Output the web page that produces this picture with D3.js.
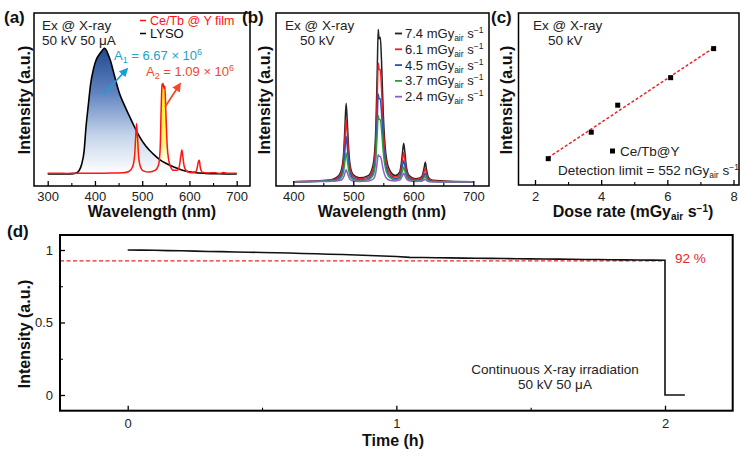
<!DOCTYPE html>
<html>
<head>
<meta charset="utf-8">
<script src="https://cdn.jsdelivr.net/npm/d3@7"></script>
<style>
  body { margin: 0; background: #fff; }
  svg { display: block; font-family: "Liberation Sans", Arial, sans-serif; }
</style>
</head>
<body>
<svg id="fig" width="741" height="456"></svg>
<script>
// ---------- data ----------
// (a) LYSO vs Ce/Tb@Y film, normalised to LYSO peak
const lysoWl  = [300, 340, 355, 362, 367, 372, 377, 381, 386, 391, 396, 400, 404, 408, 413, 417, 420, 424, 428, 433, 438, 445, 452, 462, 473, 483, 494, 508, 523, 537, 550, 567, 585, 610, 634, 660, 700];
const lysoInt = [0, 0, 0.003, 0.01, 0.03, 0.08, 0.18, 0.37, 0.55, 0.72, 0.82, 0.88, 0.92, 0.945, 0.97, 0.99, 1.0, 0.985, 0.95, 0.9, 0.83, 0.73, 0.64, 0.55, 0.46, 0.38, 0.30, 0.22, 0.16, 0.115, 0.085, 0.055, 0.03, 0.012, 0.005, 0.002, 0];
const filmWl  = [300, 320, 340, 360, 380, 400, 420, 440, 460, 472, 480, 484, 486, 488, 490, 492, 496, 502, 515, 528, 535, 538, 540, 542, 544, 546, 548, 550, 553, 558, 566, 575, 579, 582, 584, 586, 589, 595, 605, 614, 617, 619, 621, 623, 627, 640, 655, 665, 672, 680, 700];
const filmInt = [0.005, 0.006, 0.004, 0.006, 0.005, 0.006, 0.006, 0.008, 0.01, 0.02, 0.06, 0.15, 0.28, 0.40, 0.30, 0.16, 0.06, 0.025, 0.015, 0.03, 0.08, 0.2, 0.5, 0.71, 0.72, 0.68, 0.70, 0.5, 0.22, 0.08, 0.03, 0.03, 0.07, 0.15, 0.19, 0.14, 0.06, 0.02, 0.01, 0.02, 0.06, 0.10, 0.11, 0.05, 0.015, 0.008, 0.01, 0.004, 0.012, 0.005, 0.005];

// (b) spectra at five dose rates
const specWl = [400, 440, 465, 476, 481, 484, 486, 488, 490, 492, 495, 500, 510, 525, 533, 537, 540, 541.5, 543, 545, 547, 550, 554, 560, 570, 577, 580, 582, 584, 586, 588, 593, 603, 611, 615, 618, 620, 622, 625, 632, 650, 700];
const spec74 = [1, 1.5, 2.5, 5, 10, 20, 36, 52, 40, 24, 11, 5.5, 3.5, 5, 12, 30, 75, 100, 94, 95, 80, 45, 20, 9, 5, 7, 13, 20, 26, 20, 12, 5, 3, 3.5, 5, 10, 13.6, 9, 4, 2, 1.5, 1];
const spec61 = [1, 1.4, 2.2, 4, 8, 16, 29, 41.6, 32, 19, 9, 4.5, 3, 4, 9.5, 23, 58, 78, 74, 74, 62, 35, 16, 7, 4, 5.5, 10, 15.5, 20, 15.5, 9.5, 4, 2.5, 3, 4, 7.5, 9.8, 6.5, 3, 1.6, 1.2, 1];
const spec45 = [1, 1.3, 1.8, 3, 6, 12, 21, 30.6, 23.5, 14, 6.5, 3.3, 2.2, 3, 7, 17, 43, 58, 55, 55, 46, 26, 12, 5.2, 3, 4, 7.5, 11.5, 14.7, 11.5, 7, 3, 2, 2.2, 3, 5, 6.5, 4.3, 2, 1.2, 1, 1];
const spec37 = [1, 1.2, 1.5, 2.3, 4.2, 8, 14, 19.7, 15, 9, 4.3, 2.3, 1.7, 2.4, 5.3, 13, 33, 44, 41.5, 41.5, 35, 20, 9, 4, 2.3, 3, 5.3, 8, 10.5, 8, 5, 2.2, 1.5, 1.7, 2.2, 3.5, 4.6, 3, 1.5, 1.1, 1, 1];
const spec24 = [1, 1.1, 1.3, 1.7, 2.4, 4, 6.5, 8.8, 7, 4.5, 2.3, 1.4, 1.2, 1.5, 2.6, 6, 14, 18.6, 17.5, 17.5, 15, 8.5, 4, 2, 1.5, 2, 3.4, 5, 6.5, 5, 3.2, 1.6, 1.2, 1.3, 1.5, 2.1, 2.6, 1.8, 1.2, 1, 1, 1];
const doseLabels = ["7.4", "6.1", "4.5", "3.7", "2.4"];
const doseColors = ["#222222", "#ee1c25", "#2c4fb8", "#2e9e44", "#8c5fc9"];

// (c) integrated intensity vs dose rate
const doseRate = [2.4, 3.7, 4.5, 6.1, 7.4];
const doseIntensity = [0.153, 0.307, 0.464, 0.624, 0.793];

// (d) stability under continuous irradiation
const timeH = [0, 0.05, 0.1, 0.15, 0.2, 0.25, 0.3, 0.35, 0.4, 0.45, 0.5, 0.55, 0.6, 0.65, 0.7, 0.75, 0.8, 0.85, 0.9, 0.95, 1.0, 1.05, 1.1, 1.15, 1.2, 1.25, 1.3, 1.35, 1.4, 1.45, 1.5, 1.55, 1.6, 1.65, 1.7, 1.75, 1.8, 1.85, 1.9, 1.95, 2.0, 2.0, 2.074];
const stability = [1.0, 0.999, 0.998, 0.996, 0.995, 0.992, 0.990, 0.989, 0.986, 0.985, 0.983, 0.981, 0.979, 0.976, 0.974, 0.971, 0.969, 0.966, 0.962, 0.959, 0.955, 0.949, 0.948, 0.947, 0.946, 0.944, 0.943, 0.942, 0.941, 0.940, 0.939, 0.938, 0.937, 0.936, 0.935, 0.934, 0.933, 0.932, 0.931, 0.930, 0.929, 0, 0];
const retention = 0.925;

// ---------- drawing ----------
const svg = d3.select("#fig");
const defs = svg.append("defs");

// gradients
const gBlue = defs.append("linearGradient").attr("id", "lysoGrad")
  .attr("gradientUnits", "userSpaceOnUse").attr("x1", 0).attr("y1", 48).attr("x2", 0).attr("y2", 174);
gBlue.append("stop").attr("offset", 0).attr("stop-color", "#22488f");
gBlue.append("stop").attr("offset", 0.35).attr("stop-color", "#5f83c0");
gBlue.append("stop").attr("offset", 0.7).attr("stop-color", "#c6d5eb");
gBlue.append("stop").attr("offset", 1).attr("stop-color", "#ffffff");

const gYel = defs.append("linearGradient").attr("id", "filmGrad")
  .attr("gradientUnits", "userSpaceOnUse").attr("x1", 0).attr("y1", 85).attr("x2", 0).attr("y2", 174);
gYel.append("stop").attr("offset", 0).attr("stop-color", "#ffee00").attr("stop-opacity", 1);
gYel.append("stop").attr("offset", 0.65).attr("stop-color", "#fff34d").attr("stop-opacity", 0.8);
gYel.append("stop").attr("offset", 1).attr("stop-color", "#ffffff").attr("stop-opacity", 0);

function arrowHead(id, color) {
  defs.append("marker").attr("id", id)
    .attr("viewBox", "0 0 10 10").attr("refX", 8).attr("refY", 5)
    .attr("markerWidth", 5).attr("markerHeight", 5).attr("orient", "auto")
    .append("path").attr("d", "M0,0 L10,5 L0,10 Z").attr("fill", color);
}
arrowHead("arrCyan", "#1aa0cf");
arrowHead("arrRed", "#f04a2c");

// helpers
function frame(x, y, w, h, sw) {
  svg.append("rect").attr("x", x).attr("y", y).attr("width", w).attr("height", h)
    .attr("fill", "none").attr("stroke", "#000").attr("stroke-width", sw || 1.5);
}
function bottomTicks(scale, y, major, minor, pad) {
  const g = svg.append("g").attr("transform", `translate(0,${y})`)
    .call(d3.axisBottom(scale).tickValues(major).tickSize(-5).tickPadding(pad).tickFormat(d3.format("")));
  g.select(".domain").remove();
  g.selectAll("line").attr("stroke-width", 1.3);
  g.selectAll("text").attr("font-size", 13).attr("fill", "#222").attr("font-family", "Liberation Sans, Arial, sans-serif");
  const m = svg.append("g").attr("transform", `translate(0,${y})`)
    .call(d3.axisBottom(scale).tickValues(minor).tickSize(-3).tickFormat(""));
  m.select(".domain").remove();
  m.selectAll("line").attr("stroke-width", 1.1);
}
function label(x, y, txt, opts) {
  const o = opts || {};
  const t = svg.append("text").attr("x", x).attr("y", y)
    .attr("font-size", o.size || 13).attr("fill", o.color || "#222")
    .attr("font-weight", o.bold ? "bold" : "normal")
    .attr("text-anchor", o.anchor || "start");
  if (o.rotate) t.attr("transform", `rotate(-90,${x},${y})`);
  t.text(txt);
  return t;
}
function airUnit(t, big, small) {
  // appends  "Gy" with subscript "air" then " s" with superscript "-1"
  t.append("tspan").text("Gy");
  t.append("tspan").attr("font-size", small).attr("dy", 3).text("air");
  t.append("tspan").attr("font-size", big).attr("dy", -3).text(" s");
  t.append("tspan").attr("font-size", small).attr("dy", -5).text("\u22121");
}

// ===== (a) =====
const xA = d3.scaleLinear().domain([300, 700]).range([47.7, 236.7]);
const yA = d3.scaleLinear().domain([0, 1]).range([174, 48.3]);
const lyso = lysoWl.map((w, i) => [w, lysoInt[i]]);
const film = filmWl.map((w, i) => [w, filmInt[i]]);

svg.append("path").datum(lyso)
  .attr("fill", "url(#lysoGrad)")
  .attr("d", d3.area().curve(d3.curveMonotoneX).x(d => xA(d[0])).y0(yA(0)).y1(d => yA(d[1])));
svg.append("path").datum(film)
  .attr("fill", "url(#filmGrad)")
  .attr("d", d3.area().curve(d3.curveMonotoneX).x(d => xA(d[0])).y0(yA(0)).y1(d => yA(d[1])));
svg.append("path").datum(lyso)
  .attr("fill", "none").attr("stroke", "#000").attr("stroke-width", 1.6)
  .attr("d", d3.line().curve(d3.curveMonotoneX).x(d => xA(d[0])).y(d => yA(d[1])));
svg.append("path").datum(film)
  .attr("fill", "none").attr("stroke", "#ff1414").attr("stroke-width", 1.5)
  .attr("d", d3.line().curve(d3.curveMonotoneX).x(d => xA(d[0])).y(d => yA(d[1])));

frame(34, 13, 216, 173);
bottomTicks(xA, 186, [300, 400, 500, 600, 700], [350, 450, 550, 650], 6);

label(42, 30, "Ex @ X-ray", { size: 13.5 });
label(42, 45, "50 kV 50 \u03bcA", { size: 13.5 });
// legend
svg.append("line").attr("x1", 140).attr("x2", 146).attr("y1", 20.5).attr("y2", 20.5).attr("stroke", "#ff1414").attr("stroke-width", 1.5);
label(150, 25, "Ce/Tb @ Y film", { color: "#ff1414", size: 12.5 });
svg.append("line").attr("x1", 140).attr("x2", 146).attr("y1", 33.5).attr("y2", 33.5).attr("stroke", "#000").attr("stroke-width", 1.5);
label(150, 38, "LYSO", { color: "#111", size: 13 });

// A1 / A2 annotations
svg.append("line").attr("x1", 104).attr("y1", 94).attr("x2", 127).attr("y2", 69)
  .attr("stroke", "#1aa0cf").attr("stroke-width", 1.8).attr("marker-end", "url(#arrCyan)");
const a1 = label(114, 60, "A", { color: "#1ba3c8", size: 13 });
a1.append("tspan").attr("font-size", 9).attr("dy", 3).text("1");
a1.append("tspan").attr("font-size", 13).attr("dy", -3).text(" = 6.67 \u00d7 10");
a1.append("tspan").attr("font-size", 9).attr("dy", -5).text("6");

svg.append("line").attr("x1", 165).attr("y1", 107).attr("x2", 180).attr("y2", 84)
  .attr("stroke", "#f04a2c").attr("stroke-width", 1.8).attr("marker-end", "url(#arrRed)");
const a2 = label(146, 76, "A", { color: "#f04a2c", size: 13 });
a2.append("tspan").attr("font-size", 9).attr("dy", 3).text("2");
a2.append("tspan").attr("font-size", 13).attr("dy", -3).text(" = 1.09 \u00d7 10");
a2.append("tspan").attr("font-size", 9).attr("dy", -5).text("6");

label(152, 217, "Wavelength (nm)", { size: 16, bold: true, anchor: "middle", color: "#111" });
label(30, 100, "Intensity (a.u.)", { size: 16, bold: true, anchor: "middle", rotate: true, color: "#111" });
label(4, 23, "(a)", { size: 17, bold: true, color: "#111" });

// ===== (b) =====
const xB = d3.scaleLinear().domain([400, 700]).range([293.3, 473.3]);
const yB = d3.scaleLinear().domain([1, 100]).range([181.7, 29.5]);
const specSeries = [spec74, spec61, spec45, spec37, spec24];
const lineB = d3.line().curve(d3.curveMonotoneX).x(d => xB(d[0])).y(d => yB(d[1]));

svg.append("g").selectAll("path")
  .data(specSeries.map(s => specWl.map((w, i) => [w, s[i]])))
  .join("path")
    .attr("fill", "none")
    .attr("stroke", (d, i) => doseColors[i])
    .attr("stroke-width", 1.5)
    .attr("d", lineB);

frame(276, 13, 213, 173);
bottomTicks(xB, 186, [400, 500, 600, 700], [450, 550, 650], 6);

label(285, 30, "Ex @ X-ray", { size: 13.5 });
label(300, 45, "50 kV", { size: 13.5 });

const legB = svg.append("g");
doseLabels.forEach((lab, i) => {
  const yy = 33.5 + i * 15.8;
  legB.append("line").attr("x1", 395).attr("x2", 402).attr("y1", yy).attr("y2", yy)
    .attr("stroke", doseColors[i]).attr("stroke-width", 1.8);
  const t = legB.append("text").attr("x", 405).attr("y", yy + 4.5).attr("font-size", 13).attr("fill", "#222");
  t.append("tspan").text(lab + " m");
  airUnit(t, 13, 8.5);
});

label(382, 217, "Wavelength (nm)", { size: 16, bold: true, anchor: "middle", color: "#111" });
label(270, 100, "Intensity (a.u.)", { size: 16, bold: true, anchor: "middle", rotate: true, color: "#111" });
label(242, 23, "(b)", { size: 17, bold: true, color: "#111" });

// ===== (c) =====
const xC = d3.scaleLinear().domain([2, 8]).range([535, 733.5]);
const yC = d3.scaleLinear().domain([0, 1]).range([185, 13]);

// least-squares fit of the five points
const mx = d3.mean(doseRate), my = d3.mean(doseIntensity);
const slope = d3.sum(doseRate, (x, i) => (x - mx) * (doseIntensity[i] - my)) / d3.sum(doseRate, x => (x - mx) * (x - mx));
const icpt = my - slope * mx;
const xExt = d3.extent(doseRate);
svg.append("line")
  .attr("x1", xC(xExt[0])).attr("y1", yC(icpt + slope * xExt[0]))
  .attr("x2", xC(xExt[1])).attr("y2", yC(icpt + slope * xExt[1]))
  .attr("stroke", "#e8262a").attr("stroke-width", 1.5).attr("stroke-dasharray", "3,2");

svg.append("g").selectAll("rect")
  .data(doseRate.map((x, i) => [x, doseIntensity[i]]))
  .join("rect")
    .attr("x", d => xC(d[0]) - 2.5).attr("y", d => yC(d[1]) - 2.5)
    .attr("width", 5).attr("height", 5).attr("fill", "#000");

frame(518.5, 13, 220.5, 172);
bottomTicks(xC, 185, [2, 4, 6, 8], [3, 5, 7], 7);

label(533, 30, "Ex @ X-ray", { size: 13.5 });
label(548, 45, "50 kV", { size: 13.5 });
svg.append("rect").attr("x", 610).attr("y", 148.5).attr("width", 5).attr("height", 5).attr("fill", "#000");
label(620, 156, "Ce/Tb@Y", { size: 13.5 });
const dl = label(558, 175, "Detection limit = 552 n", { size: 13.5 });
airUnit(dl, 13.5, 8.5);

const xl = label(633, 217, "Dose rate (mGy", { size: 16, bold: true, anchor: "middle", color: "#111" });
xl.text(null);
xl.append("tspan").text("Dose rate (m");
airUnit(xl, 16, 10);
xl.append("tspan").attr("font-size", 16).attr("dy", 5).text(")");
label(512, 100, "Intensity (a.u.)", { size: 16, bold: true, anchor: "middle", rotate: true, color: "#111" });
label(491, 23, "(c)", { size: 17, bold: true, color: "#111" });

// ===== (d) =====
const xD = d3.scaleLinear().domain([0, 2]).range([127.7, 665]);
const yD = d3.scaleLinear().domain([0, 1]).range([395, 250]);

svg.append("line")
  .attr("x1", 60).attr("x2", xD(2)).attr("y1", yD(retention)).attr("y2", yD(retention))
  .attr("stroke", "#e8262a").attr("stroke-width", 1.3).attr("stroke-dasharray", "4,2.5");
svg.append("path").datum(timeH.map((t, i) => [t, stability[i]]))
  .attr("fill", "none").attr("stroke", "#111").attr("stroke-width", 1.6)
  .attr("d", d3.line().x(d => xD(d[0])).y(d => yD(d[1])));

frame(60, 235, 672.7, 175.7, 2);
bottomTicks(xD, 410.7, [0, 1, 2], [0.5, 1.5], 8);
const gy = svg.append("g").attr("transform", "translate(60,0)")
  .call(d3.axisLeft(yD).tickValues([0, 0.5, 1]).tickSize(-5).tickPadding(7).tickFormat(d3.format("")));
gy.select(".domain").remove();
gy.selectAll("line").attr("stroke-width", 1.3);
gy.selectAll("text").attr("font-size", 13).attr("fill", "#222").attr("font-family", "Liberation Sans, Arial, sans-serif");
const gy2 = svg.append("g").attr("transform", "translate(60,0)")
  .call(d3.axisLeft(yD).tickValues([0.25, 0.75]).tickSize(-3).tickFormat(""));
gy2.select(".domain").remove();

label(675, 263, "92 %", { color: "#e8262a", size: 13.5 });
label(555, 374, "Continuous X-ray irradiation", { anchor: "middle", size: 13.5 });
label(555, 389, "50 kV 50 \u03bcA", { anchor: "middle", size: 13.5 });

label(393, 446, "Time (h)", { size: 16, bold: true, anchor: "middle", color: "#111" });
label(30, 334, "Intensity (a.u.)", { size: 16, bold: true, anchor: "middle", rotate: true, color: "#111" });
label(7, 237, "(d)", { size: 17, bold: true, color: "#111" });
</script>
</body>
</html>
